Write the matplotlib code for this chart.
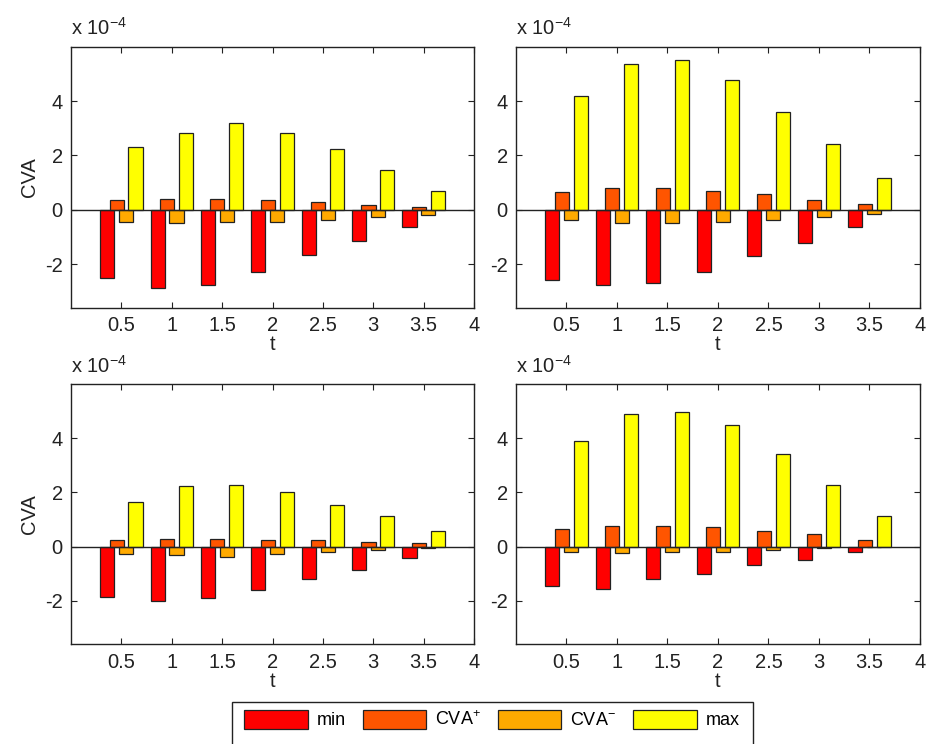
import numpy as np
import matplotlib
matplotlib.use("Agg")
import matplotlib.pyplot as plt
from matplotlib.patches import Rectangle

plt.rcParams["font.family"] = ["Liberation Sans", "DejaVu Sans"]
plt.rcParams["mathtext.default"] = "regular"

t = [0.5, 1.0, 1.5, 2.0, 2.5, 3.0, 3.5]
labels = ["min", "CVA$^{+}$", "CVA$^{-}$", "max"]
colors = ["#ff0000", "#ff5500", "#ffaa00", "#ffff00"]

# values in units of 1e-4, one list per panel and per series
tl_min = [-2.51, -2.86, -2.75, -2.27, -1.67, -1.15, -0.62]
tl_pos = [0.35, 0.41, 0.40, 0.35, 0.30, 0.17, 0.11]
tl_neg = [-0.43, -0.49, -0.43, -0.43, -0.37, -0.26, -0.20]
tl_max = [2.31, 2.84, 3.19, 2.84, 2.25, 1.47, 0.69]

tr_min = [-2.57, -2.75, -2.69, -2.27, -1.69, -1.21, -0.62]
tr_pos = [0.64, 0.81, 0.81, 0.70, 0.58, 0.35, 0.23]
tr_neg = [-0.38, -0.49, -0.48, -0.43, -0.38, -0.26, -0.15]
tr_max = [4.20, 5.38, 5.51, 4.79, 3.60, 2.42, 1.17]

bl_min = [-1.85, -2.02, -1.90, -1.61, -1.19, -0.85, -0.43]
bl_pos = [0.25, 0.28, 0.28, 0.25, 0.25, 0.18, 0.12]
bl_neg = [-0.26, -0.31, -0.37, -0.26, -0.18, -0.12, -0.06]
bl_max = [1.64, 2.23, 2.29, 2.00, 1.53, 1.12, 0.58]

br_min = [-1.44, -1.55, -1.19, -1.02, -0.66, -0.48, -0.18]
br_pos = [0.65, 0.77, 0.77, 0.71, 0.59, 0.48, 0.23]
br_neg = [-0.18, -0.25, -0.18, -0.18, -0.12, -0.06, -0.02]
br_max = [3.89, 4.88, 4.96, 4.48, 3.41, 2.29, 1.13]

panels = [
    (tl_min, tl_pos, tl_neg, tl_max),
    (tr_min, tr_pos, tr_neg, tr_max),
    (bl_min, bl_pos, bl_neg, bl_max),
    (br_min, br_pos, br_neg, br_max),
]

W, H = 929, 744
fig = plt.figure(figsize=(W / 100, H / 100), dpi=100)

# axes boxes in pixels: left, top, right, bottom
boxes = [
    (71, 46.7, 474, 307.7),
    (516, 46.7, 920, 307.7),
    (71, 384, 474, 644.3),
    (516, 384, 920, 644.3),
]

offsets = [-0.14, -0.047, 0.047, 0.14]
width = 0.14
fs = 14.5
ink = "#222222"

handles = None
for k, (series, (x0, y0, x1, y1)) in enumerate(zip(panels, boxes)):
    ax = fig.add_axes([x0 / W, 1 - y1 / H, (x1 - x0) / W, (y1 - y0) / H])
    bars = []
    for vals, off, c in zip(series, offsets, colors):
        b = ax.bar(np.array(t) + off, np.array(vals) * 1e-4, width=width,
                   color=c, edgecolor=ink, linewidth=0.9, zorder=2)
        bars.append(b)
    if handles is None:
        handles = bars
    ax.axhline(0, color=ink, lw=1.0, zorder=3)
    ax.set_xlim(0, 4)
    ax.set_ylim(-3.6e-4, 6e-4)
    ax.set_xticks([0.5, 1, 1.5, 2, 2.5, 3, 3.5, 4])
    ax.set_xticklabels(["0.5", "1", "1.5", "2", "2.5", "3", "3.5", "4"])
    ax.set_yticks([-2e-4, 0, 2e-4, 4e-4])
    ax.set_yticklabels(["-2", "0", "2", "4"])
    ax.tick_params(direction="in", top=True, right=True, length=4,
                   width=0.8, labelsize=fs, colors=ink, pad=6)
    for s in ax.spines.values():
        s.set_color(ink)
        s.set_linewidth(1.0)
    ax.set_xlabel("t", fontsize=fs, labelpad=0, color=ink)
    if k % 2 == 0:
        ax.set_ylabel("CVA", fontsize=fs, labelpad=4, color=ink)
    ax.text(0, 1 + 11.5 / (y1 - y0), "x 10$^{-4}$", transform=ax.transAxes,
            fontsize=fs, ha="left", va="baseline", color=ink)

leg = fig.legend(handles, labels, loc="upper center", ncol=4,
                 bbox_to_anchor=(492 / W, 1 - 701.7 / H), fontsize=13,
                 frameon=False, handlelength=3.5, handleheight=1.25,
                 handletextpad=0.5, columnspacing=0.95, borderpad=0.45,
                 borderaxespad=0)
for h in leg.legend_handles:
    h.set_edgecolor(ink)

# legend frame runs past the bottom edge of the figure
fig.patches.append(Rectangle((231.7 / W, -0.05), (753 - 231.7) / W,
                             0.05 + 1 - 701.7 / H, transform=fig.transFigure,
                             fill=False, edgecolor=ink, linewidth=1.0))

fig.savefig("out.png", dpi=100)
